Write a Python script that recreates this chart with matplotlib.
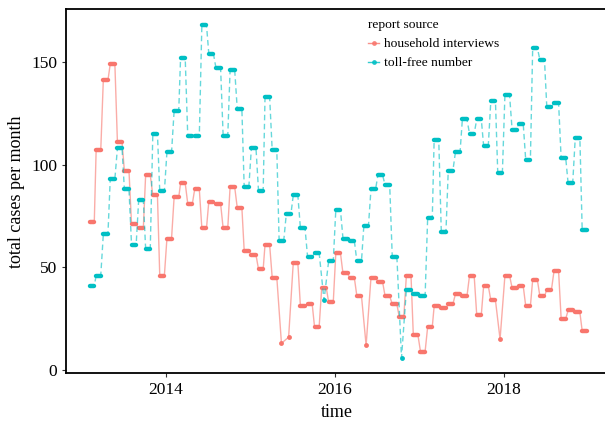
import pandas as pd
import matplotlib.pyplot as plt
import matplotlib.dates as mdates
from matplotlib.lines import Line2D

plt.rcParams["font.family"] = ["Liberation Serif", "DejaVu Serif"]

# monthly totals, Feb 2013 - Dec 2018
months = pd.date_range("2013-02-01", "2018-12-01", freq="MS") + pd.Timedelta(days=14)

household = [72, 107, 141, 149, 111, 97, 71, 69, 95, 85, 46, 64, 84, 91, 81,
             88, 69, 82, 81, 69, 89, 79, 58, 56, 49, 61, 45, 13, 16,
             52, 31, 32, 21, 40, 33, 57, 47, 45, 36, 12, 45, 43, 36,
             32, 26, 46, 17, 9, 21, 31, 30, 32, 37, 36, 46, 27, 41,
             34, 15, 46, 40, 41, 31, 44, 36, 39, 48, 25, 29, 28, 19]
tollfree = [41, 46, 66, 93, 108, 88, 61, 83, 59, 115, 87, 106, 126, 152, 114,
            114, 168, 154, 147, 114, 146, 127, 89, 108, 87, 133, 107, 63, 76,
            85, 69, 55, 57, 34, 53, 78, 64, 63, 53, 70, 88, 95, 90,
            55, 6, 39, 37, 36, 74, 112, 67, 97, 106, 122, 115, 122, 109,
            131, 96, 134, 117, 120, 102, 157, 151, 128, 130, 103, 91, 113, 68]

# months with a single report only (shown as a dot)
household_single = [27, 28, 39, 58]
tollfree_single = [33, 44]

labels = ["household interviews", "toll-free number"]
colors = ["#F8766D", "#00BFC4"]

fig = plt.figure(figsize=(6.05, 4.23), dpi=100)
ax = fig.add_axes([66 / 605, 1 - 373.3 / 423, 541 / 605, 364 / 423])

xnum = mdates.date2num(months.to_pydatetime())
half = 10  # days


def draw(values, single, color, ls, z):
    xs, ys = [], []
    for i, (x, v) in enumerate(zip(xnum, values)):
        h = 0 if i in single else half
        xs += [x - h, x + h]
        ys += [v, v]
    ax.plot(xs, ys, color=color, lw=1.0, ls=ls, alpha=0.6, zorder=z)
    for i, (x, v) in enumerate(zip(xnum, values)):
        if i in single:
            ax.plot([x], [v], "o", color=color, ms=3.5, mec="none", zorder=z + 1)
        else:
            ax.plot([x - half, x + half], [v, v], color=color, lw=3.2,
                    solid_capstyle="round", zorder=z + 1)


draw(household, household_single, colors[0], "-", 2)
draw(tollfree, tollfree_single, colors[1], (0, (4, 2.5)), 4)

x_left = mdates.date2num(pd.Timestamp("2014-01-01")) - 100 / 84.5 * 365.25
x_right = mdates.date2num(pd.Timestamp("2014-01-01")) + 441 / 84.5 * 365.25
ax.set_xlim(x_left, x_right)
ax.set_ylim(-1.6, 175.6)
ax.set_yticks([0, 50, 100, 150])
ax.xaxis.set_major_locator(mdates.YearLocator(2))
ax.xaxis.set_major_formatter(mdates.DateFormatter("%Y"))

for s in ax.spines.values():
    s.set_linewidth(1.3)
    s.set_color("black")
ax.tick_params(direction="out", length=3, width=0.8, color="#333333",
               labelsize=12.5, labelcolor="black")
ax.set_xlabel("time", fontsize=13)
ax.set_ylabel("total cases per month", fontsize=13)

handles = [Line2D([0], [0], color=c, lw=1, marker="o", ms=2.5, alpha=0.8)
           for c in colors]
leg = ax.legend(handles, labels, title="report source", loc="upper left",
                bbox_to_anchor=(356 / 605, 1 - 7 / 423),
                bbox_transform=fig.transFigure, frameon=False, fontsize=9.7,
                title_fontsize=9.7, handlelength=0.8, handletextpad=0.4,
                labelspacing=0.5)
leg._legend_box.align = "left"

fig.savefig("out.png", dpi=100)
